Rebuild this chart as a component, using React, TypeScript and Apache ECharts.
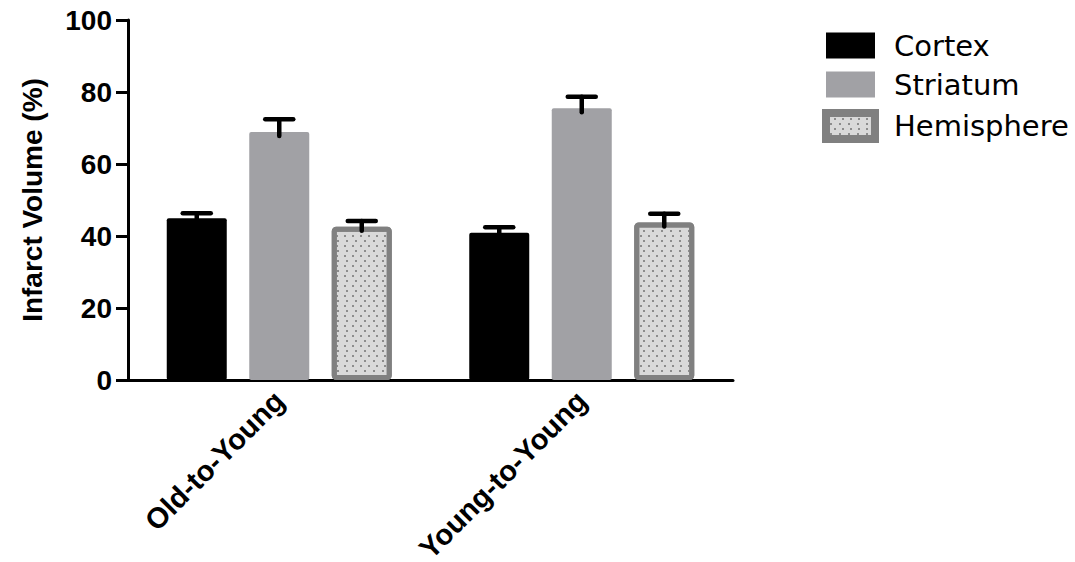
import React, { useEffect, useRef } from "react";
import * as echarts from "echarts";

const categories = ["Old-to-Young", "Young-to-Young"];
const seriesNames = ["Cortex", "Striatum", "Hemisphere"];
const cortexValues = [44.9, 40.9];
const striatumValues = [68.9, 75.5];
const hemisphereValues = [42.6, 43.75];
const cortexErrors = [1.4, 1.5];
const striatumErrors = [3.5, 3.2];
const hemisphereErrors = [1.6, 2.4];
const yTicks = [0, 20, 40, 60, 80, 100];

const FONT = "'Liberation Sans', Arial, sans-serif";
const WIDE = "'DejaVu Sans', sans-serif";
const BAR_W = 60;
const GAP_RATIO = 0.375;

export default function App() {
  const ref = useRef<HTMLDivElement>(null);
  useEffect(() => {
    if (!ref.current) return;
    const chart = echarts.init(ref.current, null, { renderer: "svg" });
    const values = [cortexValues, striatumValues, hemisphereValues];
    const errors = [cortexErrors, striatumErrors, hemisphereErrors];
    const colors = ["#000000", "#a1a1a5", "#d9d9d9"];
    const decal = {
      symbol: "rect",
      symbolSize: 1,
      color: "#8c8c8c",
      dashArrayX: [
        [1.5, 6],
        [0, 3.75, 1.5, 2.25],
      ],
      dashArrayY: [1.5, 2.2],
    };

    const barSeries: any[] = seriesNames.map((name, i) => ({
      name,
      type: "bar",
      barWidth: BAR_W,
      barGap: GAP_RATIO * 100 + "%",
      data: values[i],
      itemStyle:
        i === 2
          ? {
              color: colors[i],
              borderColor: "#808080",
              borderWidth: 5,
              borderRadius: 2,
              decal,
            }
          : { color: colors[i], borderRadius: 2 },
    }));

    const errSeries: any[] = seriesNames.map((name, i) => ({
      name: name + " error",
      type: "custom",
      z: 5,
      data: categories.map((_, k) => [k, values[i][k], errors[i][k]]),
      renderItem: (params: any, api: any) => {
        const cat = api.value(0);
        const v = api.value(1);
        const e = api.value(2);
        const base = api.coord([cat, v]);
        const top = api.coord([cat, v + e]);
        const offset = (i - 1) * BAR_W * (1 + GAP_RATIO);
        const x = base[0] + offset;
        const style = { stroke: "#000", lineWidth: 4.5, lineCap: "round" };
        return {
          type: "group",
          children: [
            {
              type: "line",
              shape: { x1: x, y1: base[1] + 4, x2: x, y2: top[1] },
              style,
            },
            {
              type: "line",
              shape: { x1: x - 14, y1: top[1], x2: x + 14, y2: top[1] },
              style,
            },
          ],
        };
      },
    }));

    chart.setOption({
      animation: false,
      textStyle: { fontFamily: FONT },
      legend: {
        data: [
          { name: seriesNames[0] },
          { name: seriesNames[1] },
          {
            name: seriesNames[2],
            itemStyle: { color: "#d9d9d9", borderColor: "#808080", borderWidth: 8, decal },
          },
        ],
        orient: "vertical",
        left: 817,
        top: 26,
        itemWidth: 49,
        itemHeight: 26,
        itemGap: 10,
        icon: "rect",
        textStyle: {
          fontSize: 29,
          color: "#000",
          fontFamily: WIDE,
          padding: [0, 0, 0, 14],
        },
      },
      grid: { left: 128, right: 342, top: 20, bottom: 182, outerBoundsMode: "none", containLabel: false },
      xAxis: {
        type: "category",
        data: categories,
        axisLine: { lineStyle: { color: "#000", width: 3 } },
        axisTick: { alignWithLabel: true, length: 10, lineStyle: { width: 3, color: "#000" } },
        axisLabel: {
          rotate: 45,
          fontSize: 29,
          fontWeight: "bold",
          color: "#000",
          margin: 16,
          fontFamily: FONT,
        },
      },
      yAxis: {
        type: "value",
        min: yTicks[0],
        max: yTicks[yTicks.length - 1],
        interval: yTicks[1] - yTicks[0],
        name: "Infarct Volume (%)",
        nameLocation: "middle",
        nameGap: 82,
        nameTextStyle: { fontSize: 28, fontWeight: "bold", color: "#000", fontFamily: FONT },
        splitLine: { show: false },
        axisLine: { show: true, lineStyle: { color: "#000", width: 3 } },
        axisTick: { show: true, length: 12, lineStyle: { width: 3, color: "#000" } },
        axisLabel: { fontSize: 28, fontWeight: "bold", color: "#000", margin: 16, fontFamily: FONT },
      },
      series: [...barSeries, ...errSeries],
    });
    return () => chart.dispose();
  }, []);
  return (
    <div
      ref={ref}
      style={{ position: "fixed", left: 0, top: 0, width: 1075, height: 562, background: "#fff" }}
    />
  );
}
